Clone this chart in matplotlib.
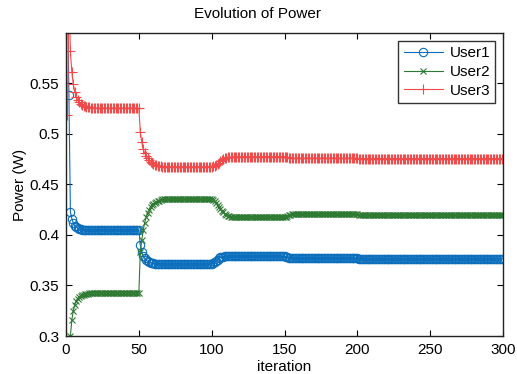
import matplotlib.pyplot as plt
import numpy as np

# Power per user for iterations 1..300
user1 = (
    [0.650, 0.539, 0.423, 0.416, 0.412, 0.409, 0.408, 0.407, 0.406, 0.406]  # 1-10
    + [0.405] * 40  # 11-50
    + [0.390, 0.383, 0.379, 0.377, 0.375, 0.374, 0.373, 0.3725, 0.372, 0.372]  # 51-60
    + [0.3715] * 40  # 61-100
    + [0.372, 0.373, 0.374, 0.3755, 0.377, 0.3778, 0.3783, 0.3786, 0.3788, 0.379]  # 101-110
    + [0.379] * 40  # 111-150
    + [0.3785, 0.378, 0.3775, 0.3772, 0.377]  # 151-155
    + [0.3768] * 45  # 156-200
    + [0.3765] * 100  # 201-300
)
user2 = (
    [0.250, 0.280, 0.300, 0.316, 0.325, 0.331, 0.335, 0.337, 0.339, 0.340]  # 1-10
    + [0.341, 0.341, 0.342, 0.342, 0.342]  # 11-15
    + [0.343] * 35  # 16-50
    + [0.383, 0.395, 0.405, 0.412, 0.418, 0.422, 0.425, 0.428, 0.430, 0.431]  # 51-60
    + [0.432, 0.433, 0.434, 0.434, 0.435]  # 61-65
    + [0.4355] * 35  # 66-100
    + [0.435, 0.4335, 0.432, 0.430, 0.428, 0.426, 0.424, 0.4225, 0.421, 0.420]  # 101-110
    + [0.419, 0.4185, 0.418, 0.418, 0.418]  # 111-115
    + [0.4178] * 35  # 116-150
    + [0.418, 0.419, 0.4198, 0.4202, 0.4205]  # 151-155
    + [0.4205] * 45  # 156-200
    + [0.4195] * 100  # 201-300
)
user3 = (
    [0.519, 0.640, 0.582, 0.561, 0.549, 0.542, 0.537, 0.534, 0.532, 0.530]  # 1-10
    + [0.529, 0.528, 0.528, 0.527, 0.527, 0.527, 0.526, 0.526, 0.526, 0.526]  # 11-20
    + [0.5255] * 30  # 21-50
    + [0.502, 0.492, 0.485, 0.481, 0.478, 0.476, 0.474, 0.472, 0.471, 0.470]  # 51-60
    + [0.469, 0.469, 0.468, 0.468, 0.468]  # 61-65
    + [0.4675] * 35  # 66-100
    + [0.468, 0.4685, 0.469, 0.470, 0.4715, 0.473, 0.474, 0.475, 0.476, 0.4765]  # 101-110
    + [0.477, 0.477, 0.4772, 0.4774, 0.4775]  # 111-115
    + [0.4776] * 35  # 116-150
    + [0.4772, 0.4768, 0.4765, 0.4762, 0.476]  # 151-155
    + [0.476] * 45  # 156-200
    + [0.4757] * 100  # 201-300
)
iterations = np.arange(1, len(user1) + 1)
labels = ["User1", "User2", "User3"]

plt.rcParams["font.family"] = ["Liberation Sans", "DejaVu Sans"]
plt.rcParams["font.size"] = 11

fig = plt.figure(figsize=(5.17, 3.74), dpi=100)
ax = fig.add_axes([0.1277, 0.1016, 0.8453, 0.8102])

ax.plot(iterations, user1, color="#0a6ebd", lw=0.8, marker="o", ms=6,
        mfc="none", mew=0.8, label=labels[0])
ax.plot(iterations, user2, color="#2e7a32", lw=0.8, marker="x", ms=4.8,
        mew=0.8, label=labels[1])
ax.plot(iterations, user3, color="#f04a4a", lw=0.8, marker="+", ms=7.5,
        mew=0.8, label=labels[2])

ax.set_xlim(0, 300)
ax.set_ylim(0.3, 0.6)
ax.set_xticks([0, 50, 100, 150, 200, 250, 300])
ax.set_yticks([0.3, 0.35, 0.4, 0.45, 0.5, 0.55])
ax.set_yticklabels(["0.3", "0.35", "0.4", "0.45", "0.5", "0.55"])
ax.tick_params(direction="in", length=4, width=0.8, top=True, right=True, pad=5)
for s in ax.spines.values():
    s.set_linewidth(1.0)
    s.set_color("#222222")

ax.set_xlabel("iteration", labelpad=2)
ax.set_ylabel("Power (W)", labelpad=2)
fig.text(258 / 517, 1 - 14 / 374, "Evolution of Power", ha="center", va="center",
         fontsize=11)

leg = ax.legend(loc="upper right", fancybox=False, framealpha=1,
                edgecolor="#333333", handlelength=2.6, borderaxespad=0.5,
                handletextpad=0.4, labelspacing=0.32, borderpad=0.35)
leg.get_frame().set_linewidth(1.0)

fig.savefig("out.png", dpi=100)
